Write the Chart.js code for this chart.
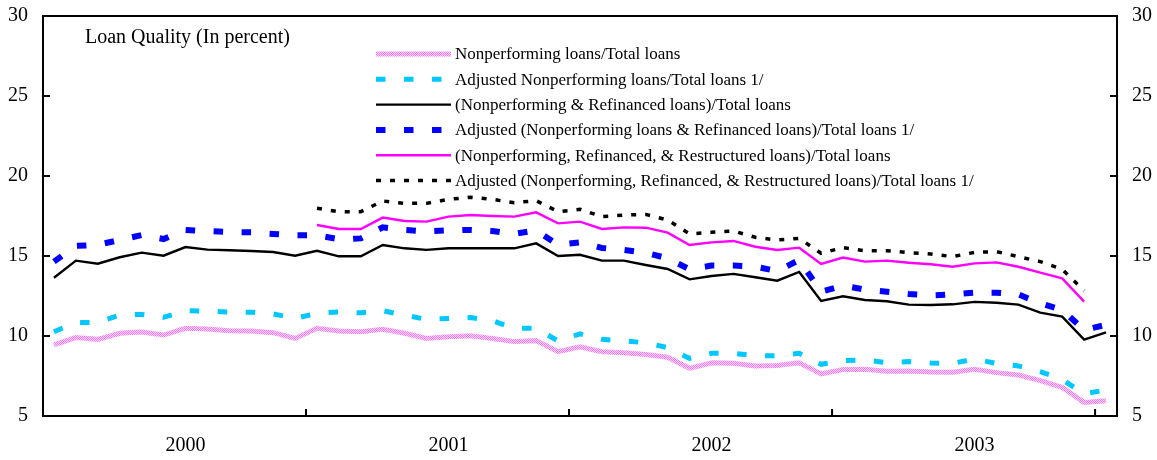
<!DOCTYPE html>
<html>
<head>
<meta charset="utf-8">
<script src="https://cdn.jsdelivr.net/npm/chart.js@4.4.1/dist/chart.umd.min.js"></script>
<style>
  body { margin: 0; background: #fff; }
  #wrap { width: 1157px; height: 460px; }
</style>
</head>
<body>
<div id="wrap"><canvas id="loanChart" width="1157" height="460"></canvas></div>
<script>
// Monthly, Jan 2000 - Jan 2004
const years = ['2000', '2001', '2002', '2003', '2004'];
const months = [];
for (let i = 0; i < 49; i++) months.push(years[Math.floor(i / 12)] + '-' + (i % 12 + 1));

const seriesNames = [
    'Nonperforming loans/Total loans',
    'Adjusted Nonperforming loans/Total loans 1/',
    '(Nonperforming & Refinanced loans)/Total loans',
    'Adjusted (Nonperforming loans & Refinanced loans)/Total loans 1/',
    '(Nonperforming, Refinanced, & Restructured loans)/Total loans',
    'Adjusted (Nonperforming, Refinanced, & Restructured loans)/Total loans 1/'
];

const npl = [
    9.44, 9.9, 9.79, 10.17, 10.25, 10.06, 10.48, 10.44, 10.33, 10.31, 10.21, 9.85,
    10.48, 10.31, 10.27, 10.42, 10.17, 9.85, 9.96, 10.02, 9.85, 9.65, 9.71, 9.02,
    9.33, 9.02, 8.96, 8.85, 8.67, 7.98, 8.33, 8.29, 8.13, 8.15, 8.33, 7.63,
    7.9, 7.92, 7.79, 7.81, 7.75, 7.73, 7.92, 7.71, 7.56, 7.21, 6.79, 5.85, 5.96
];
const adjNpl = [
    10.27, 10.85, 10.85, 11.31, 11.35, 11.17, 11.58, 11.56, 11.5, 11.48, 11.38, 11.1,
    11.42, 11.5, 11.45, 11.58, 11.3, 11.04, 11.1, 11.15, 10.96, 10.48, 10.48, 9.69,
    10.13, 9.79, 9.69, 9.58, 9.27, 8.6, 8.92, 8.92, 8.77, 8.77, 8.92, 8.23,
    8.47, 8.5, 8.33, 8.4, 8.31, 8.29, 8.56, 8.29, 8.13, 7.77, 7.29, 6.38, 6.63
];
const npRefi = [
    13.64, 14.71, 14.52, 14.92, 15.21, 15.02, 15.56, 15.4, 15.36, 15.31, 15.25, 15.02,
    15.33, 14.98, 14.98, 15.69, 15.48, 15.38, 15.48, 15.48, 15.48, 15.48, 15.79, 15.0,
    15.08, 14.71, 14.71, 14.44, 14.19, 13.54, 13.75, 13.88, 13.67, 13.46, 14.0, 12.19,
    12.48, 12.25, 12.17, 11.96, 11.94, 11.98, 12.13, 12.08, 11.96, 11.46, 11.21, 9.77, 10.23
];
const adjNpRefi = [
    14.65, 15.63, 15.7, 16.0, 16.31, 16.06, 16.63, 16.56, 16.5, 16.48, 16.38, 16.29,
    16.29, 16.05, 16.1, 16.79, 16.63, 16.54, 16.6, 16.63, 16.56, 16.38, 16.6, 15.7,
    15.85, 15.5, 15.38, 15.21, 14.85, 14.17, 14.4, 14.4, 14.33, 14.06, 14.75, 12.77,
    13.15, 12.9, 12.77, 12.63, 12.54, 12.6, 12.71, 12.71, 12.6, 12.04, 11.63, 10.38, 10.7
];
const npRefiRestr = [
    null, null, null, null, null, null, null, null, null, null, null, null,
    16.94, 16.69, 16.69, 17.4, 17.19, 17.15, 17.46, 17.56, 17.5, 17.46, 17.73, 17.04,
    17.15, 16.69, 16.79, 16.77, 16.46, 15.69, 15.85, 15.94, 15.58, 15.38, 15.52, 14.5,
    14.9, 14.65, 14.71, 14.58, 14.48, 14.33, 14.54, 14.6, 14.33, 13.96, 13.6, 12.15, null
];
const adjNpRefiRestr = [
    null, null, null, null, null, null, null, null, null, null, null, null,
    17.98, 17.77, 17.77, 18.44, 18.29, 18.29, 18.54, 18.67, 18.54, 18.33, 18.46, 17.77,
    17.92, 17.46, 17.56, 17.6, 17.25, 16.38, 16.48, 16.56, 16.17, 16.0, 16.1, 15.17,
    15.52, 15.33, 15.33, 15.21, 15.13, 14.96, 15.23, 15.27, 14.96, 14.65, 14.17, 12.83, null
];
const yTicks = [5, 10, 15, 20, 25, 30];

// speckled pink fill used for the first series
const pat = document.createElement('canvas');
pat.width = 2; pat.height = 2;
const pctx = pat.getContext('2d');
pctx.fillStyle = '#ffd6ff'; pctx.fillRect(0, 0, 2, 2);
pctx.fillStyle = '#f77bf7'; pctx.fillRect(0, 0, 1, 1); pctx.fillRect(1, 1, 1, 1);
const pinkPattern = pctx.createPattern(pat, 'repeat');

const FONT = 'Liberation Serif';
Chart.defaults.font.family = FONT;
Chart.defaults.color = '#000';

// frame, inward tick marks, title and legend
const decor = {
    id: 'decor',
    afterDraw(chart) {
        const { ctx, chartArea: a, scales } = chart;
        ctx.save();
        ctx.strokeStyle = '#000';
        ctx.lineWidth = 2;
        ctx.setLineDash([]);
        ctx.strokeRect(a.left, a.top, a.right - a.left, a.bottom - a.top);
        ctx.beginPath();
        yTicks.forEach(v => {
            const y = scales.y.getPixelForValue(v);
            ctx.moveTo(a.left, y); ctx.lineTo(a.left + 7, y);
            ctx.moveTo(a.right, y); ctx.lineTo(a.right - 7, y);
        });
        for (let i = 12; i < months.length; i += 12) {
            const x = (scales.x.getPixelForValue(i - 1) + scales.x.getPixelForValue(i)) / 2;
            ctx.moveTo(x, a.bottom); ctx.lineTo(x, a.bottom - 7);
        }
        ctx.stroke();

        ctx.fillStyle = '#000';
        ctx.textBaseline = 'middle';
        ctx.font = '20px "' + FONT + '"';
        ctx.fillText('Loan Quality (In percent)', 85, 38);

        ctx.font = '17px "' + FONT + '"';
        chart.data.datasets.forEach((ds, i) => {
            const y = 54 + i * 25.3;
            ctx.beginPath();
            ctx.strokeStyle = ds.borderColor;
            ctx.lineWidth = ds.borderWidth;
            ctx.setLineDash(ds.borderDash || []);
            ctx.moveTo(376, y); ctx.lineTo(451, y);
            ctx.stroke();
            ctx.fillText(ds.label, 455, y + 1);
        });
        ctx.restore();
    }
};

function fixY(width) {
    return s => { s.width = width; s.paddingTop = 0; s.paddingBottom = 0; };
}

new Chart(document.getElementById('loanChart'), {
    type: 'line',
    data: {
        labels: months,
        datasets: [
            { label: seriesNames[0], data: npl, borderColor: pinkPattern, borderWidth: 5 },
            { label: seriesNames[1], data: adjNpl, borderColor: '#00c8ff', borderWidth: 5, borderDash: [9.5, 18.5] },
            { label: seriesNames[2], data: npRefi, borderColor: '#000000', borderWidth: 2.4 },
            { label: seriesNames[3], data: adjNpRefi, borderColor: '#0000ff', borderWidth: 6, borderDash: [9.5, 18.5] },
            { label: seriesNames[4], data: npRefiRestr, borderColor: '#ff00ff', borderWidth: 2.4 },
            { label: seriesNames[5], data: adjNpRefiRestr, borderColor: '#000000', borderWidth: 3.5, borderDash: [5, 9] }
        ]
    },
    options: {
        responsive: false,
        animation: false,
        layout: { padding: { top: 16, left: 0, right: 0, bottom: 0 } },
        elements: { point: { radius: 0 }, line: { tension: 0, fill: false } },
        scales: {
            x: {
                offset: true,
                grid: { display: false, drawTicks: false },
                border: { display: false },
                afterFit(s) { s.height = 44; s.paddingLeft = 0; s.paddingRight = 0; },
                ticks: {
                    autoSkip: false,
                    maxRotation: 0,
                    padding: 18,
                    font: { size: 20 },
                    callback: (v, i) => (i % 12 === 6 ? years[Math.floor(i / 12)] : '')
                }
            },
            y: {
                position: 'left',
                min: 5, max: 30,
                grid: { display: false, drawTicks: false },
                border: { display: false },
                afterFit: fixY(43),
                ticks: { stepSize: 5, padding: 15, font: { size: 20 } }
            },
            y2: {
                position: 'right',
                min: 5, max: 30,
                grid: { display: false, drawTicks: false },
                border: { display: false },
                afterFit: fixY(40),
                ticks: { stepSize: 5, padding: 15, font: { size: 20 } }
            }
        },
        plugins: {
            legend: { display: false },
            title: { display: false },
            tooltip: { enabled: false }
        }
    },
    plugins: [decor]
});
</script>
</body>
</html>
